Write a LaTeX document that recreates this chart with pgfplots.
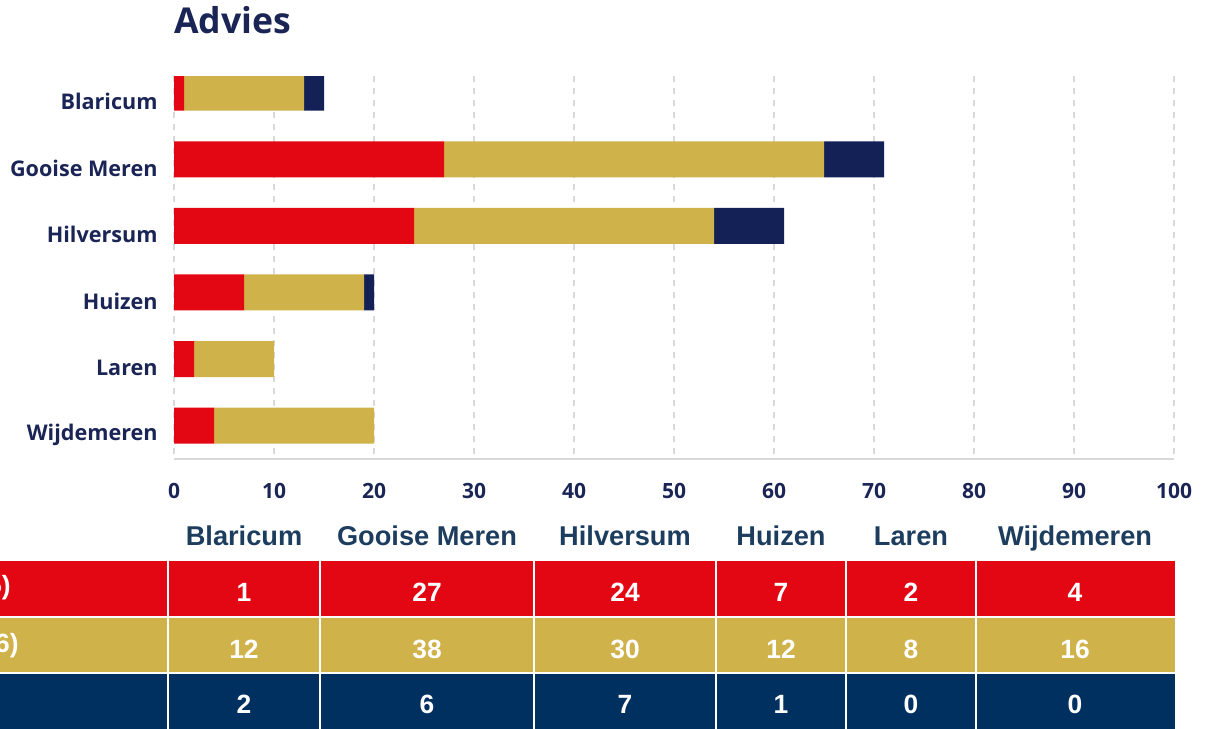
\documentclass[border=0pt]{standalone}
\usepackage{fontspec}
\setmainfont{Open Sans}
\newfontfamily\tabfont{Liberation Sans}
\usepackage{pgfplots}
\pgfplotsset{compat=1.18}
\definecolor{cred}{HTML}{E30613}
\definecolor{cgold}{HTML}{CFB249}
\definecolor{cnavy}{HTML}{142157}
\definecolor{tnavy}{HTML}{00305F}
\definecolor{labnavy}{HTML}{1A2556}
\definecolor{headnavy}{HTML}{1D3D5E}
\definecolor{gridgray}{HTML}{D9D9D9}

\pgfplotstableread{
idx laag midden hoog
0   1  12  2
1   27 38  6
2   24 30  7
3   7  12  1
4   2  8   0
5   4  16  0
}\advies

\begin{document}
\begin{tikzpicture}
\begin{scope}[x=0.5pt,y=-0.5pt]
  \coordinate (A) at (174,459);
  % title
  \node[anchor=base west,inner sep=0pt,text=labnavy,font=\fontsize{17.8}{20}\selectfont\bfseries] at (174,33) {Advies};
\end{scope}

\begin{axis}[
  at={(A)}, anchor=south west,
  scale only axis, width=500pt, height=191.5pt,
  xbar stacked, bar width=18pt,
  xmin=0, xmax=100,
  ymin=-0.25, ymax=5.5, y dir=reverse,
  xtick={0,10,...,100},
  ytick={0,1,2,3,4,5},
  yticklabels={Blaricum,Gooise Meren,Hilversum,Huizen,Laren,Wijdemeren},
  major tick length=0pt,
  xmajorgrids, grid style={gridgray,dashed,line width=0.6pt},
  axis x line*=bottom, axis y line*=left,
  x axis line style={gridgray,line width=0.8pt,-},
  y axis line style={draw=none},
  /pgf/number format/assume math mode=true,
  tick label style={text=labnavy,font=\fontsize{10.5}{12}\selectfont\bfseries},
  yticklabel style={anchor=east,inner sep=0pt,xshift=-8pt,yshift=-4.5pt,font=\fontsize{10.8}{12}\selectfont\bfseries},
  xticklabel style={anchor=north,inner sep=0pt,yshift=-12pt},
  every axis plot/.append style={draw=none},
]
\addplot[fill=cred]  table[x=laag,y=idx]   {\advies};
\addplot[fill=cgold] table[x=midden,y=idx] {\advies};
\addplot[fill=cnavy] table[x=hoog,y=idx]   {\advies};
\end{axis}

\begin{scope}[x=0.5pt,y=-0.5pt]
  % table rows
  \fill[cred]  (-10,561) rectangle (1175,617);
  \fill[cgold] (-10,617) rectangle (1175,673);
  \fill[tnavy] (-10,673) rectangle (1175,740);
  \draw[white,line width=1.2pt] (-10,617) -- (1175,617) (-10,673) -- (1175,673);
  \foreach \xx in {168,320,534,716,846,976}
    \draw[white,line width=1.2pt] (\xx,561) -- (\xx,740);
  % headers
  \begin{scope}[every node/.style={anchor=base,inner sep=0pt,text=headnavy,font=\tabfont\fontsize{13.6}{15}\selectfont\bfseries}]
    \node at (244,545) {Blaricum};
    \node at (427,545) {Gooise Meren};
    \node at (625,545) {Hilversum};
    \node at (781,545) {Huizen};
    \node at (911,545) {Laren};
    \node at (1075,545) {Wijdemeren};
  \end{scope}
  % values
  \begin{scope}[every node/.style={anchor=base,inner sep=0pt,text=white,font=\tabfont\fontsize{13.2}{15}\selectfont\bfseries}]
    \node[anchor=base east] at (11,594) {5)};
    \node[anchor=base east] at (19,652) {6)};
    \foreach \xx/\a/\b/\c in {244/1/12/2,427/27/38/6,625/24/30/7,781/7/12/1,911/2/8/0,1075/4/16/0}{
      \node at (\xx,601) {\a};
      \node at (\xx,658) {\b};
      \node at (\xx,713) {\c};
    }
  \end{scope}
\end{scope}
\pgfresetboundingbox
\path[use as bounding box,x=0.5pt,y=-0.5pt] (0,0) rectangle (1209,728);
\end{tikzpicture}
\end{document}
